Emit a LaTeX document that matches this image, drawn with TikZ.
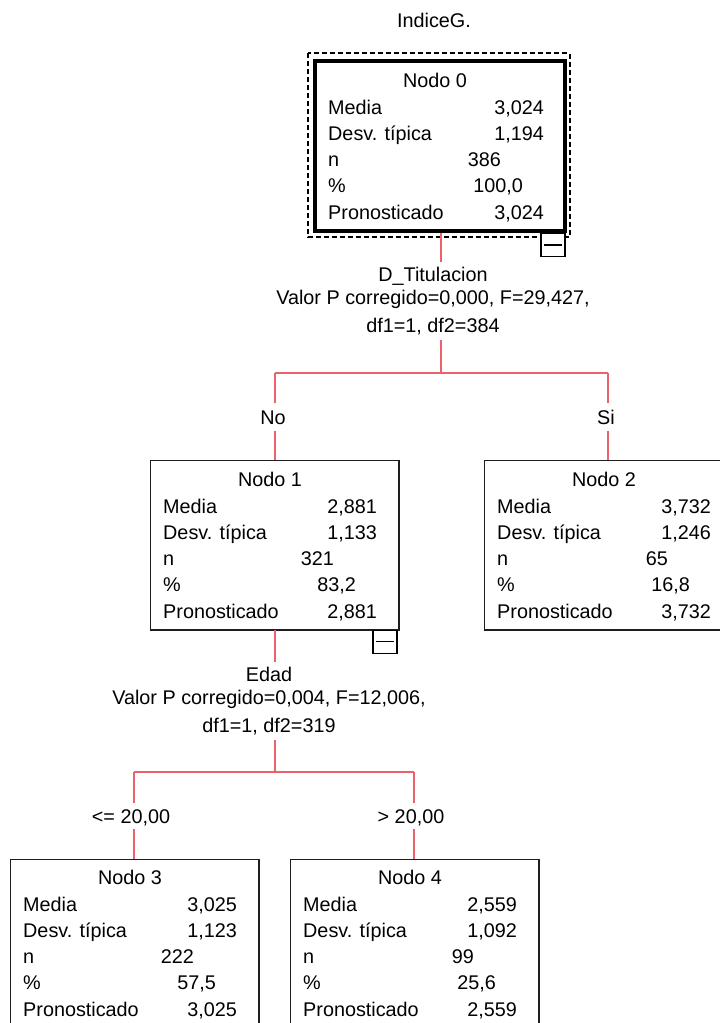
\documentclass[tikz,border=0pt]{standalone}
\usepackage{fontspec}
\setmainfont{Liberation Sans}
\definecolor{splitred}{RGB}{236,98,108}
\definecolor{boxline}{RGB}{30,30,30}
% #1 name of box node, #2 left, #3 top, #4 width, #5 number, #6 media (= pronosticado), #7 desv, #8 n, #9 pct
\newcommand\spssfill[9]{%
  \node[txt, anchor=base] (#1-t) at ({#2+120},{#3+26}) {Nodo #5};
  \node[txt, anchor=base west] (#1-l1) at ({#2+13},{#3+53}) {Media};
  \node[txt, anchor=base east] (#1-v1) at ({#2+#4-21},{#3+53}) {#6};
  \node[txt, anchor=base west] (#1-l2) at ({#2+13},{#3+79}) {Desv. típica};
  \node[txt, anchor=base east] (#1-v2) at ({#2+#4-21},{#3+79}) {#7};
  \node[txt, anchor=base west] (#1-l3) at ({#2+13},{#3+105}) {n};
  \node[txt, anchor=base east] (#1-v3) at ({#2+#4-64},{#3+105}) {#8};
  \node[txt, anchor=base west] (#1-l4) at ({#2+13},{#3+131}) {\%};
  \node[txt, anchor=base east] (#1-v4) at ({#2+#4-42},{#3+131}) {#9};
  \node[txt, anchor=base west] (#1-l5) at ({#2+13},{#3+158}) {Pronosticado};
  \node[txt, anchor=base east] (#1-v5) at ({#2+#4-21},{#3+158}) {#6};
}
\begin{document}
\begin{tikzpicture}[x=1pt,y=-1pt,
  txt/.style={inner sep=0pt, font=\fontsize{19.8}{23}\selectfont, text=black},
  boxst/.style={draw=boxline, line width=1pt, fill=white, inner sep=0pt, minimum width=248pt, minimum height=169pt},
  rootst/.style={draw=black, line width=3.5pt, fill=white, inner sep=0pt, minimum width=250pt, minimum height=170pt},
  shadeedge/.style={draw=boxline, line width=2pt},
  focusst/.style={draw=black, line width=2pt, dash pattern=on 5pt off 3pt},
  minusbox/.style={draw=black, line width=1.3pt, fill=white, minimum width=24pt, minimum height=23pt, inner sep=0pt},
  minusbar/.style={draw=black, line width=1.3pt},
  conn/.style={draw=splitred, line width=1.3pt},
  splitst/.style={txt, align=center, inner xsep=2pt, inner ysep=5pt},
  branchst/.style={txt, text height=14pt, text depth=0pt, inner xsep=2pt, inner ysep=7pt},
]
\clip (0,0) rectangle (720,1023);
\fill[white] (0,0) rectangle (720,1023);

% title
\node[txt, anchor=base] (title) at (434,27) {IndiceG.};

% root node
\node[rootst] (n0) at (440,146) {};
\draw[focusst] ([shift={(-5,-6)}]n0.north west) rectangle ([shift={(3,4.5)}]n0.south east);
\node[rootst] at (n0) {};
\spssfill{n0}{315}{61}{250}{0}{3,024}{1,194}{386}{100,0}
\node[minusbox, anchor=north east] (n0m) at ([xshift=-1pt]n0.south east) {};
\draw[minusbar] ([xshift=4pt]n0m.west) -- ([xshift=-4pt]n0m.east);

% first split
\node[splitst, anchor=north] (s0) at (433,262)
  {D\_Titulacion\\Valor P corregido=0,000, F=29,427,\hspace*{24pt}\\[5pt]df1=1, df2=384};
\coordinate (j0) at (441,373);
\coordinate (j0l) at (275,373);
\coordinate (j0r) at (608,373);
\node[branchst, anchor=base] (lNo) at (273,424) {No};
\node[branchst, anchor=base] (lSi) at (606,424) {Si};

% level 1 nodes
\node[boxst] (n1) at (274,544.5) {};
\draw[shadeedge] (n1.north east) -- (n1.south east) -- (n1.south west);
\spssfill{n1}{150}{460}{248}{1}{2,881}{1,133}{321}{83,2}
\node[minusbox, anchor=north east] (n1m) at ([xshift=-1pt]n1.south east) {};
\draw[minusbar] ([xshift=4pt]n1m.west) -- ([xshift=-4pt]n1m.east);

\node[boxst] (n2) at (608,544.5) {};
\draw[shadeedge] (n2.north east) -- (n2.south east) -- (n2.south west);
\spssfill{n2}{484}{460}{248}{2}{3,732}{1,246}{65}{16,8}

% second split
\node[splitst, anchor=north] (s1) at (269,662)
  {Edad\\Valor P corregido=0,004, F=12,006,\hspace*{30pt}\\[5pt]df1=1, df2=319};
\coordinate (j1) at (275,772);
\coordinate (j1l) at (134,772);
\coordinate (j1r) at (414,772);
\node[branchst, anchor=base, inner ysep=6pt] (lLe) at (131,823) {<= 20,00};
\node[branchst, anchor=base, inner ysep=6pt] (lGt) at (411,823) {> 20,00};

% level 2 nodes
\node[boxst] (n3) at (134,943.5) {};
\draw[shadeedge] (n3.north east) -- (n3.south east) -- (n3.south west);
\spssfill{n3}{10}{858}{248}{3}{3,025}{1,123}{222}{57,5}

\node[boxst] (n4) at (414,943.5) {};
\draw[shadeedge] (n4.north east) -- (n4.south east) -- (n4.south west);
\spssfill{n4}{290}{858}{248}{4}{2,559}{1,092}{99}{25,6}

% connectors
\draw[conn] (n0.south -| j0) -- (s0.north -| j0);
\draw[conn] (s0.south -| j0) -- (j0);
\draw[conn] (j0l) -- (j0r);
\draw[conn] (j0l) -- (lNo.north -| j0l);
\draw[conn] (lNo.south -| j0l) -- (n1.north -| j0l);
\draw[conn] (j0r) -- (lSi.north -| j0r);
\draw[conn] (lSi.south -| j0r) -- (n2.north -| j0r);

\draw[conn] (n1.south -| j1) -- (s1.north -| j1);
\draw[conn] (s1.south -| j1) -- (j1);
\draw[conn] (j1l) -- (j1r);
\draw[conn] (j1l) -- (lLe.north -| j1l);
\draw[conn] (lLe.south -| j1l) -- (n3.north -| j1l);
\draw[conn] (j1r) -- (lGt.north -| j1r);
\draw[conn] (lGt.south -| j1r) -- (n4.north -| j1r);
\end{tikzpicture}
\end{document}
